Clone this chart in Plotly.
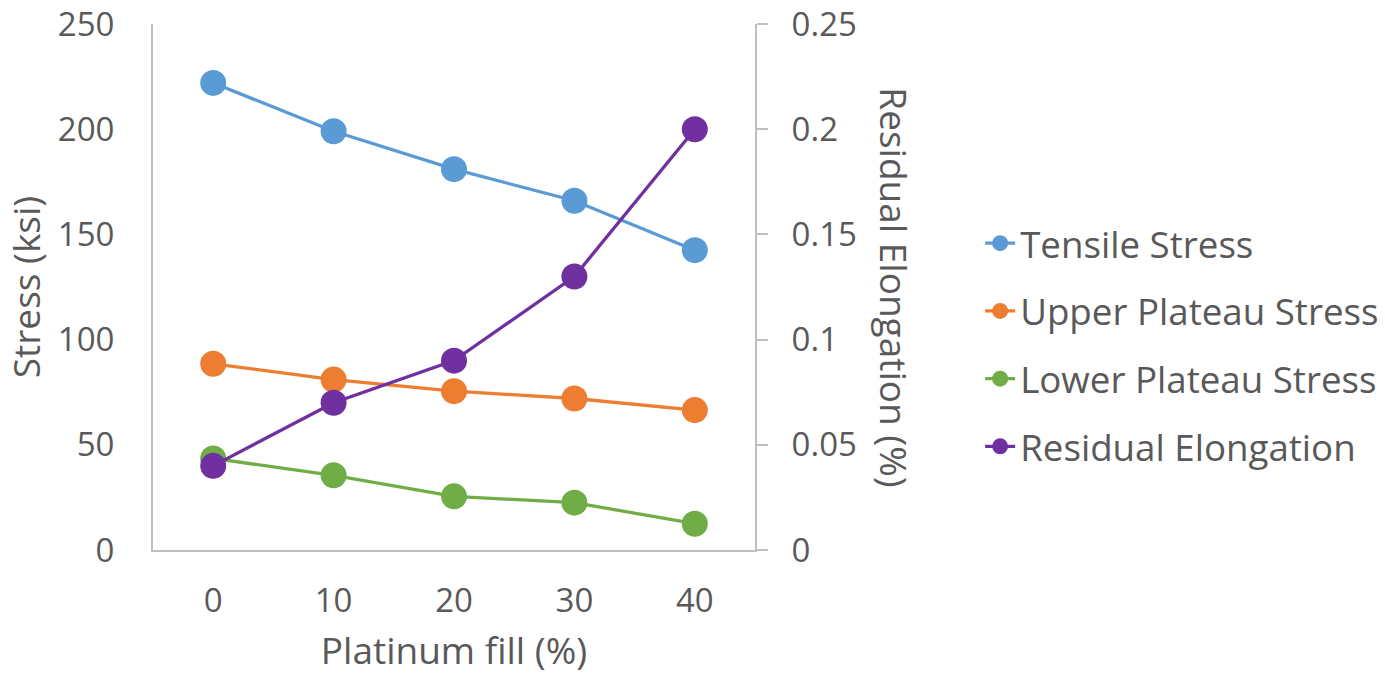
import plotly.graph_objects as go

fill = [0, 10, 20, 30, 40]
tensile = [222, 199, 181, 166, 142.5]
upper = [88.5, 81, 75.5, 72, 66.5]
lower = [43.5, 35.5, 25.5, 22.5, 12.5]
residual = [0.04, 0.07, 0.09, 0.13, 0.20]
left_ticks = [0, 50, 100, 150, 200, 250]
right_ticks = [0, 0.05, 0.1, 0.15, 0.2, 0.25]
right_labels = ["0", "0.05", "0.1", "0.15", "0.2", "0.25"]

FONT = "Open Sans"
TXT = "#595959"
AX = "#BFBFBF"

fig = go.Figure()
series = [
    ("Tensile Stress", tensile, "#5B9BD5", "y"),
    ("Upper Plateau Stress", upper, "#ED7D31", "y"),
    ("Lower Plateau Stress", lower, "#70AD47", "y"),
    ("Residual Elongation", residual, "#7030A0", "y2"),
]
for name, vals, col, ax in series:
    fig.add_trace(go.Scatter(
        x=fill, y=vals, name=name, yaxis=ax, mode="lines+markers",
        legendgroup=name,
        line=dict(color=col, width=3.3),
        marker=dict(color=col, size=26),
    ))

fig.update_layout(
    width=1385, height=675,
    margin=dict(l=153, r=630, t=24, b=125, autoexpand=False),
    paper_bgcolor="white", plot_bgcolor="white",
    font=dict(family=FONT, size=33, color=TXT),
    showlegend=True,
    legend=dict(x=1.374, y=0.39, xanchor="left", yanchor="middle",
                font=dict(family=FONT, size=36.7, color=TXT),
                itemwidth=30, tracegroupgap=17, bgcolor="rgba(0,0,0,0)"),
    xaxis=dict(range=[-5, 45], tickvals=fill, showgrid=False, zeroline=False,
               showline=True, linecolor=AX, linewidth=2, ticks="",
               ticklabelstandoff=20, automargin=False,
               title=dict(text="Platinum fill (%)", standoff=21,
                          font=dict(family=FONT, size=37, color=TXT))),
    yaxis=dict(range=[0, 250], tickvals=left_ticks, showgrid=False, zeroline=False,
               showline=True, linecolor=AX, linewidth=2, ticks="",
               ticklabelstandoff=30, ticklabeloverflow="allow", automargin=False,
               title=dict(text="Stress (ksi)", standoff=12,
                          font=dict(family=FONT, size=37, color=TXT))),
    yaxis2=dict(range=[0, 0.25], tickvals=right_ticks, ticktext=right_labels,
                overlaying="y", side="right", ticklabeloverflow="allow",
                automargin=False,
                showgrid=False, zeroline=False, showline=True, linecolor=AX,
                linewidth=2, ticks="outside", ticklen=11, tickcolor=AX,
                tickwidth=2, ticklabelstandoff=17),
    annotations=[dict(text="Residual Elongation (%)", textangle=90,
                      xref="paper", yref="paper", x=1.232, y=0.5,
                      xanchor="center", yanchor="middle", showarrow=False,
                      font=dict(family=FONT, size=37, color=TXT))],
)

fig.write_html("out.html")
